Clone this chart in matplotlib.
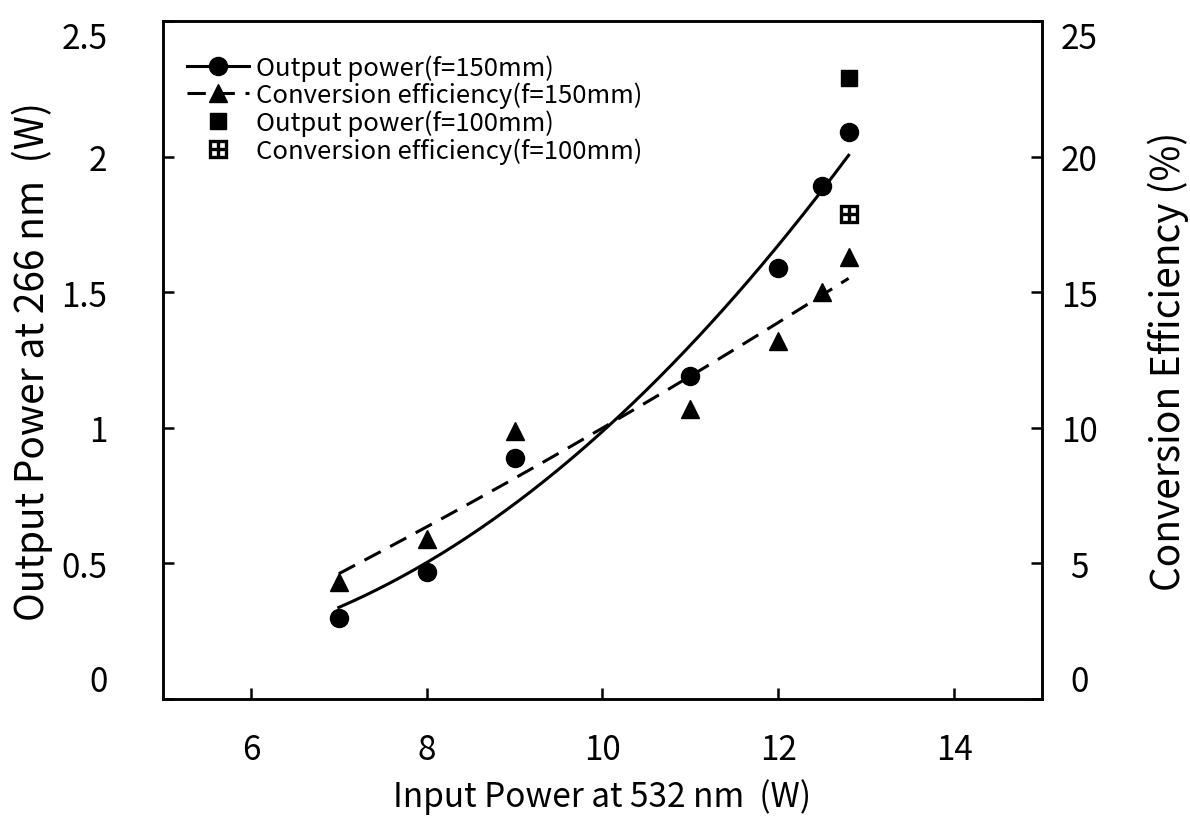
import numpy as np
import matplotlib
matplotlib.use("Agg")
import matplotlib.pyplot as plt
from matplotlib.legend_handler import HandlerTuple

plt.rcParams['font.family'] = ['Noto Sans CJK JP', 'DejaVu Sans']

# Data
x_150 = [7, 8, 9, 11, 12, 12.5, 12.8]
power_150 = [0.30, 0.47, 0.89, 1.19, 1.59, 1.89, 2.09]
eff_150 = [4.3, 5.9, 9.9, 10.7, 13.2, 15.0, 16.3]
x_100 = [12.8]
power_100 = [2.29]
eff_100 = [17.9]

xticks = [6, 8, 10, 12, 14]
yticks_left = [0, 0.5, 1, 1.5, 2, 2.5]
ytick_left_labels = ['0', '0.5', '1', '1.5', '2', '2.5']
yticks_right = [0, 5, 10, 15, 20, 25]

fig = plt.figure(figsize=(11.9, 8.2), dpi=100)
ax = fig.add_axes([0.137, 0.1463, 0.7386, 0.8269])
ax2 = ax.twinx()

# fits
xf = np.linspace(min(x_150), max(x_150), 200)
pp = np.polyfit(x_150, power_150, 2)
pe = np.polyfit(x_150, eff_150, 2)

l1, = ax.plot(xf, np.polyval(pp, xf), color='black', lw=2.2)
m1, = ax.plot(x_150, power_150, 'o', color='black', ms=13, ls='none')
m3, = ax.plot(x_100, power_100, 's', color='black', ms=12, ls='none')

l2, = ax2.plot(xf, np.polyval(pe, xf), color='black', lw=2.2, dashes=(6, 3.5))
m2, = ax2.plot(x_150, eff_150, '^', color='black', ms=13, ls='none')
m4a, = ax2.plot(x_100, eff_100, 's', mfc='white', mec='black', mew=2.4, ms=11, ls='none')
m4b, = ax2.plot(x_100, eff_100, '+', color='black', mew=2.4, ms=11, ls='none')

ax.set_xlim(5, 15)
ax.set_ylim(0, 2.5)
ax2.set_ylim(0, 25)
ax.set_xticks(xticks)
ax.set_yticks(yticks_left)
ax.set_yticklabels(ytick_left_labels)
ax2.set_yticks(yticks_right)

for a in (ax, ax2):
    for s in a.spines.values():
        s.set_linewidth(1.8)
ax.tick_params(axis='both', direction='in', length=8, width=1.8, labelsize=24)
ax.tick_params(axis='x', pad=24)
ax.tick_params(axis='y', pad=40)
ax2.tick_params(axis='y', direction='in', length=8, width=1.8, labelsize=24, pad=27)

fig.canvas.draw()
for lab in ax2.get_yticklabels():
    lab.set_horizontalalignment('center')
yl = ax.get_yticklabels()
yl[0].set_verticalalignment('bottom')
yl[-1].set_verticalalignment('top')
yr = ax2.get_yticklabels()
yr[0].set_verticalalignment('bottom')
yr[-1].set_verticalalignment('top')

ax.set_xlabel('Input Power at 532 nm  (W)', fontsize=24, labelpad=8)
ax.set_ylabel('Output Power at 266 nm  (W)', fontsize=28, labelpad=6)
ax2.set_ylabel('Conversion Efficiency (%)', fontsize=28, labelpad=36)

handles = [(l1, m1), (l2, m2), m3, (m4a, m4b)]
labels = ['Output power(f=150mm)', 'Conversion efficiency(f=150mm)',
          'Output power(f=100mm)', 'Conversion efficiency(f=100mm)']
leg = ax.legend(handles, labels, loc='upper left', bbox_to_anchor=(-0.005, 0.993),
                frameon=False, fontsize=18.5, handlelength=2.4, handletextpad=0.3,
                labelspacing=0.05, borderaxespad=0.7,
                handler_map={tuple: HandlerTuple(ndivide=1, pad=0)})

fig.savefig('out.png', dpi=100)
